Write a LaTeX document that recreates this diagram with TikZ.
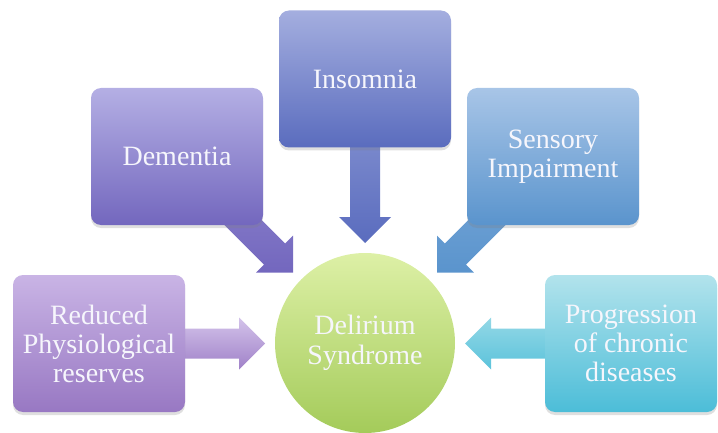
\documentclass[tikz,border=0pt]{standalone}
\usepackage{fontspec}
\setmainfont{Liberation Serif}
\usetikzlibrary{calc,shadows}

% gradient end colours (top / bottom)
\definecolor{insT}{HTML}{A4AEDF}\definecolor{insB}{HTML}{5A6CBE}
\definecolor{demT}{HTML}{B4AFE4}\definecolor{demB}{HTML}{7367BE}
\definecolor{senT}{HTML}{A8C5E7}\definecolor{senB}{HTML}{5A94CD}
\definecolor{redT}{HTML}{C9B4E5}\definecolor{redB}{HTML}{9878C3}
\definecolor{proT}{HTML}{B2E3EC}\definecolor{proB}{HTML}{4CBDD8}
\definecolor{delT}{HTML}{DDF0A6}\definecolor{delB}{HTML}{A4CB5A}
\definecolor{labeltext}{HTML}{F6F6FC}

% thick block arrow from #1 towards the point #2
\newcommand\blockarrow[3]{%
  \coordinate (hb) at ($(#2)!26pt!(#1)$);
  \path[#3] ($(#1)!15pt!90:(#2)$) -- ($(hb)!15pt!-90:(#1)$)
    -- ($(hb)!26pt!-90:(#1)$) -- (#2) -- ($(hb)!26pt!90:(#1)$)
    -- ($(hb)!15pt!90:(#1)$) -- ($(#1)!15pt!-90:(#2)$) -- cycle;
}

\tikzset{
  cause/.style={rounded corners=10pt, minimum width=172pt, minimum height=137pt,
    inner sep=0pt, align=center, text=labeltext,
    font=\fontsize{28}{29}\selectfont,
    drop shadow={shadow xshift=0pt, shadow yshift=-3pt, opacity=0.25}},
  hub/.style={circle, minimum size=180pt, inner sep=0pt, align=center,
    text=labeltext, font=\fontsize{28}{30}\selectfont},
}

\begin{document}
\begin{tikzpicture}[x=1pt, y=1pt]
\useasboundingbox (0,0) rectangle (718,432);

% tips of the arrows, just short of the circle
\coordinate (tipI) at (365,189);
\coordinate (tipD) at (293,159.5);
\coordinate (tipS) at (437,159.5);
\coordinate (tipR) at (265,88.5);
\coordinate (tipP) at (465,88.5);

% centres of the cause boxes
\coordinate (cI) at (365,353);
\coordinate (cD) at (177,275.5);
\coordinate (cS) at (553,275.5);
\coordinate (cR) at (99,88.5);
\coordinate (cP) at (631,88.5);

% arrows first, so the boxes cover their tails
\blockarrow{cI}{tipI}{top color=insT!70!insB, bottom color=insB}
\blockarrow{cD}{tipD}{top color=demT!45!demB, bottom color=demB}
\blockarrow{cS}{tipS}{top color=senT!45!senB, bottom color=senB}
\blockarrow{cR}{tipR}{top color=redT!80!white, bottom color=redB!85!redT}
\blockarrow{cP}{tipP}{top color=proT!70!proB, bottom color=proB!85!proT}

% central syndrome
\node[hub, top color=delT, bottom color=delB] (del) at (365,89) {Delirium\\Syndrome};

% contributing factors
\node[cause, top color=insT, bottom color=insB] (ins) at (cI) {Insomnia};
\node[cause, top color=demT, bottom color=demB] (dem) at (cD) {Dementia};
\node[cause, top color=senT, bottom color=senB] (sen) at (cS) {Sensory\\Impairment};
\node[cause, top color=redT, bottom color=redB] (red) at (cR) {Reduced\\Physiological\\reserves};
\node[cause, top color=proT, bottom color=proB] (pro) at (cP) {Progression\\of chronic\\diseases};
\end{tikzpicture}
\end{document}
